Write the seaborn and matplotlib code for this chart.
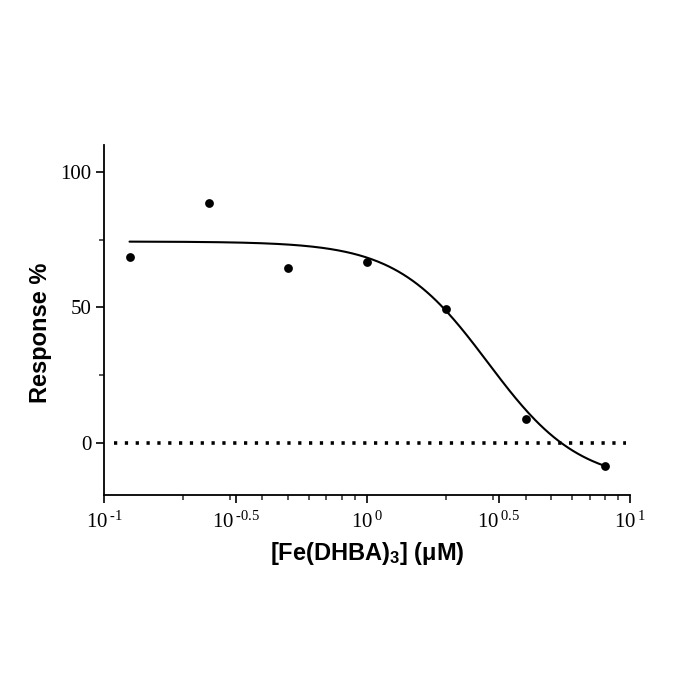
import numpy as np
import pandas as pd
import matplotlib
matplotlib.use("Agg")
import matplotlib.pyplot as plt
import seaborn as sns
from matplotlib.ticker import FixedLocator, LogLocator, MultipleLocator, NullFormatter

# Data
conc_uM = [0.125, 0.25, 0.5, 1, 2, 4, 8]
response = [68.5, 88.5, 64.5, 66.7, 49.3, 8.9, -8.5]

# Fitted 4-parameter logistic curve parameters
fit_top = 74.3
fit_bottom = -15.0
fit_ic50 = 2.87
fit_hill = 2.5

xtick_exponents = ["-1", "-0.5", "0", "0.5", "1"]
ytick_values = [0, 50, 100]

sns.set_theme(style="ticks")
plt.rcParams["font.family"] = ["Liberation Serif", "DejaVu Serif"]
plt.rcParams["text.color"] = "black"
plt.rcParams["axes.labelcolor"] = "black"

fig = plt.figure(figsize=(7, 7), dpi=100)
ax = fig.add_axes([0.1486, 0.293, 0.752, 0.50])

df = pd.DataFrame({"conc": conc_uM, "resp": response})
xfit = np.logspace(np.log10(min(conc_uM)), np.log10(max(conc_uM)), 300)
yfit = fit_bottom + (fit_top - fit_bottom) / (1 + (xfit / fit_ic50) ** fit_hill)
fit_df = pd.DataFrame({"conc": xfit, "resp": yfit})

ax.set_xscale("log")
ax.plot([0.109, 9.6], [0, 0], color="black", lw=2.6, linestyle=(0, (0.9, 2.1)))
sns.lineplot(data=fit_df, x="conc", y="resp", ax=ax, color="black", lw=1.5)
sns.scatterplot(data=df, x="conc", y="resp", ax=ax, color="black", s=40,
                edgecolor="black", linewidth=0, zorder=5)

ax.set_xlim(0.1, 10)
ax.set_ylim(-19.3, 110)

xt = [10 ** float(e) for e in xtick_exponents]
ax.xaxis.set_major_locator(FixedLocator(xt))
ax.set_xticklabels([r"$\mathregular{10^{\,%s}}$" % e.replace("-", "\u2010") for e in xtick_exponents])
ax.xaxis.set_minor_locator(LogLocator(base=10, subs=np.arange(2, 10)))
ax.xaxis.set_minor_formatter(NullFormatter())
ax.set_yticks(ytick_values)
ax.yaxis.set_minor_locator(MultipleLocator(25))

for s in ["top", "right"]:
    ax.spines[s].set_visible(False)
for s in ["left", "bottom"]:
    ax.spines[s].set_linewidth(1.3)
    ax.spines[s].set_color("black")

ax.tick_params(axis="both", which="major", direction="out", length=6, width=1.2,
               colors="black")
ax.tick_params(axis="x", which="major", labelsize=15, pad=6)
ax.tick_params(axis="y", which="major", labelsize=15, pad=3)
ax.tick_params(axis="both", which="minor", direction="out", length=3.5, width=1.1)

ax.set_xlabel(r"[Fe(DHBA)$\mathregular{_3}$] (μM)", family=["Liberation Sans"],
              fontweight="bold", fontsize=17, color="black")
ax.set_ylabel("Response %", family=["Liberation Sans"], fontweight="bold",
              fontsize=17, color="black")
ax.xaxis.set_label_coords(0.5, -0.13)
ax.yaxis.set_label_coords(-0.099, 0.464)

fig.savefig("out.png", dpi=100, facecolor="white")
